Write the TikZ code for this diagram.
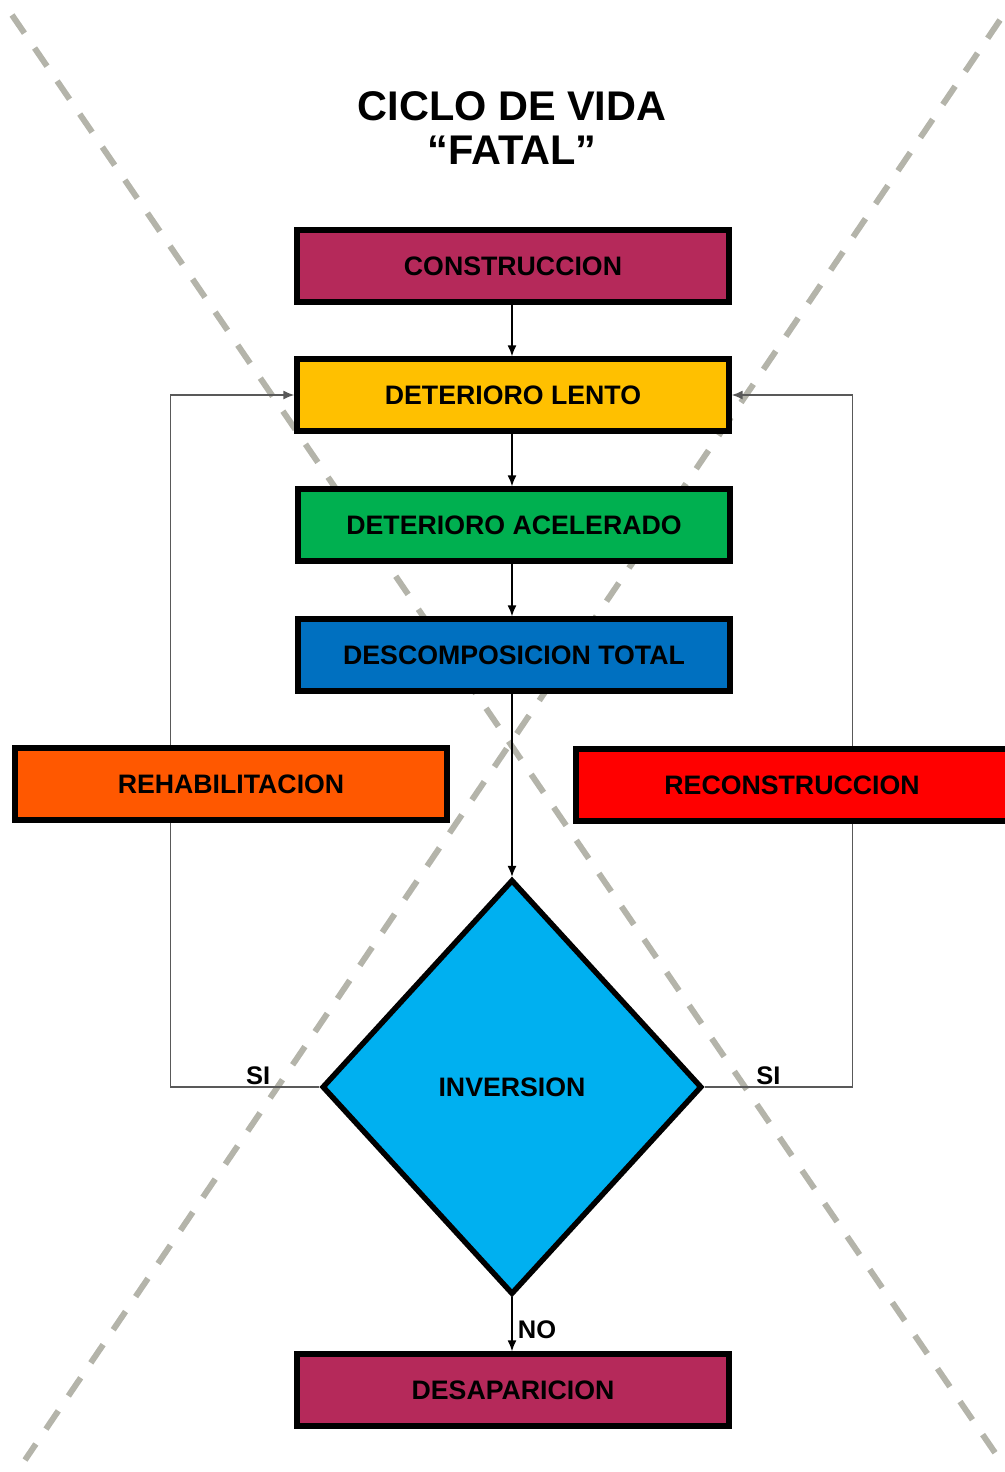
\documentclass[tikz,border=0pt]{standalone}
\usepackage{fontspec}
\setmainfont{Liberation Sans}
\usepackage{xcolor}
\usepackage{tikz}
\usetikzlibrary{positioning,shapes.geometric,arrows.meta,backgrounds}

\definecolor{vino}{RGB}{181,41,90}
\definecolor{amarillo}{RGB}{255,192,0}
\definecolor{verde}{RGB}{0,176,80}
\definecolor{azul}{RGB}{0,112,192}
\definecolor{naranja}{RGB}{255,88,0}
\definecolor{rojo}{RGB}{255,0,0}
\definecolor{celeste}{RGB}{0,176,240}
\definecolor{grisraya}{RGB}{180,180,170}

\begin{document}
\begin{tikzpicture}[x=0.02cm, y=-0.02cm,
  boxnode/.style={rectangle, draw=black, line width=3.1pt, minimum width=8.64cm, minimum height=1.44cm, font=\fontsize{15.2}{18}\selectfont\bfseries},
  decnode/.style={diamond, draw=black, line width=3.1pt, minimum width=7.6cm, minimum height=8.3cm, inner sep=0pt, font=\fontsize{15.2}{18}\selectfont\bfseries},
  link/.style={black, line width=0.8pt, -{Latex[length=2.2mm,width=1.8mm]}},
  backlink/.style={link, draw=black!65},
  cross/.style={grisraya, line width=3.4pt, dash pattern=on 0.44cm off 0.36cm},
  tag/.style={font=\fontsize{14.5}{16}\selectfont\bfseries, inner sep=1pt}]
\clip (0,0) rectangle (1005,1472);

\node[align=center, font=\fontsize{23.6}{24.6}\selectfont\bfseries] (titulo) at (512,128) {CICLO DE VIDA\\“FATAL”};

\node[boxnode, fill=vino] (construccion) at (513,266) {CONSTRUCCION};
\node[boxnode, fill=amarillo] (lento) at (513,395) {DETERIORO LENTO};
\node[boxnode, fill=verde] (acelerado) at (514,525) {DETERIORO ACELERADO};
\node[boxnode, fill=azul] (descomposicion) at (514,655) {DESCOMPOSICION TOTAL};
\node[boxnode, fill=naranja] (rehabilitacion) at (231,784) {REHABILITACION};
\node[boxnode, fill=rojo] (reconstruccion) at (792,785) {RECONSTRUCCION};
\node[decnode, fill=celeste] (inversion) at (512,1087) {INVERSION};
\node[boxnode, fill=vino] (desaparicion) at (513,1390) {DESAPARICION};

\begin{pgfonlayer}{background}
% cruz de fondo
\draw[cross] (12,15) -- (1000,1460);
\draw[cross] (1000,20) -- (25,1460);

\draw[link] (construccion.south -| inversion) -- (lento.north -| inversion);
\draw[link] (lento.south -| inversion) -- (acelerado.north -| inversion);
\draw[link] (acelerado.south -| inversion) -- (descomposicion.north -| inversion);
\draw[link] (descomposicion.south -| inversion) -- (inversion);
\draw[link] (inversion) -- node[tag, right, pos=0.6, xshift=2pt] {NO} (desaparicion.north -| inversion);

\draw[backlink] (inversion.west) -- node[tag, above, pos=0.41] {SI} ++(-149,0) |- (lento.west);
\draw[backlink] (inversion.east) -- node[tag, above, pos=0.43] {SI} ++(148,0) |- (lento.east);
\end{pgfonlayer}

\end{tikzpicture}
\end{document}
